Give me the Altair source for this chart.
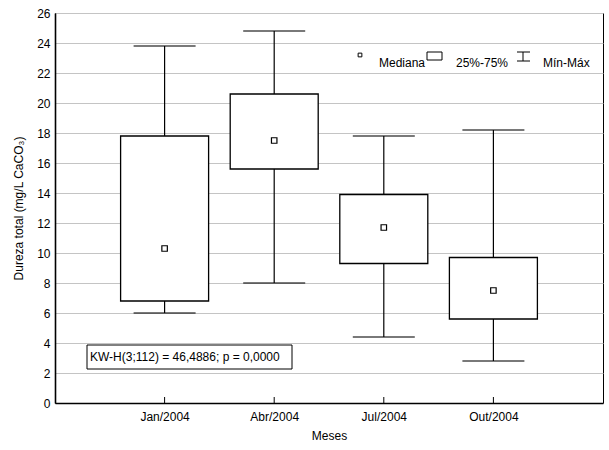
import altair as alt
import pandas as pd

# Box-plot summary of total hardness per sampling month
meses = ["Jan/2004", "Abr/2004", "Jul/2004", "Out/2004"]
minimo = [6.0, 8.0, 4.4, 2.8]
q1 = [6.8, 15.6, 9.3, 5.6]
mediana = [10.3, 17.5, 11.7, 7.5]
q3 = [17.8, 20.6, 13.9, 9.7]
maximo = [23.8, 24.8, 17.8, 18.2]
y_ticks = list(range(0, 27, 2))

legenda = ["Mediana", "25%-75%", "Mín-Máx"]
anotacao = "KW-H(3;112) = 46,4886; p = 0,0000"

FONT = "Liberation Sans"

df = pd.DataFrame({
    "mes": meses, "minimo": minimo, "q1": q1,
    "mediana": mediana, "q3": q3, "maximo": maximo,
})

x_enc = alt.X(
    "mes:N", sort=meses,
    scale=alt.Scale(type="point", domain=meses, padding=1),
    axis=alt.Axis(title="Meses", labelAngle=0, ticks=False, grid=False,
                  labelPadding=8, titlePadding=8),
)
y_scale = alt.Scale(domain=[0, 26], nice=False, zero=True)
y_axis = alt.Axis(title="Dureza total (mg/L CaCO₃)", values=y_ticks, grid=True,
                  ticks=False, labelPadding=5, titlePadding=11, labelOverlap=False)


def yq(field):
    return alt.Y(field, type="quantitative", scale=y_scale, axis=y_axis)


base = alt.Chart(df).encode(x=x_enc)

whiskers = base.mark_rule(color="black", strokeWidth=1.2).encode(
    y=yq("minimo"), y2="maximo:Q")
cap_max = base.mark_tick(color="black", size=62, thickness=1.3).encode(y=yq("maximo"))
cap_min = base.mark_tick(color="black", size=62, thickness=1.3).encode(y=yq("minimo"))
boxes = base.mark_bar(width=88, fill="white", stroke="black", strokeWidth=1.3).encode(
    y=yq("q1"), y2="q3:Q")
medians = base.mark_point(shape="square", size=30, filled=False, color="black",
                          strokeWidth=1.2, opacity=1).encode(y=yq("mediana"))
# short inward ticks on the category axis
inner_ticks = base.mark_rule(color="black", strokeWidth=1).encode(
    y=alt.YDatum(0, scale=y_scale, axis=y_axis), y2=alt.Y2Datum(0.4))

# legend drawn inside the plot area
one = alt.Chart(pd.DataFrame({"k": [0]}))
leg_med = one.mark_point(shape="square", size=14, filled=False, color="black",
                         strokeWidth=1, opacity=1).encode(
    x=alt.value(305), y=alt.value(42))
leg_box = one.mark_rect(fill="white", stroke="black", strokeWidth=1).encode(
    x=alt.value(372), x2=alt.value(387), y=alt.value(39), y2=alt.value(47))
leg_wv = one.mark_rule(color="black", strokeWidth=1).encode(
    x=alt.value(468), y=alt.value(39), y2=alt.value(48))
leg_wt = one.mark_rule(color="black", strokeWidth=1).encode(
    x=alt.value(462), x2=alt.value(475), y=alt.value(39))
leg_wb = one.mark_rule(color="black", strokeWidth=1).encode(
    x=alt.value(462), x2=alt.value(475), y=alt.value(48))
leg_text = []
for label, xpos in zip(legenda, [324, 401, 488]):
    leg_text.append(
        one.mark_text(align="left", baseline="alphabetic", font=FONT, fontSize=12,
                      color="black").encode(
            x=alt.value(xpos), y=alt.value(54), text=alt.value(label)))

# test statistic box
ann_box = one.mark_rect(fill="white", stroke="black", strokeWidth=1).encode(
    x=alt.value(32), x2=alt.value(237), y=alt.value(332), y2=alt.value(356))
ann_text = one.mark_text(align="left", baseline="middle", font=FONT, fontSize=12,
                         color="black").encode(
    x=alt.value(35), y=alt.value(344), text=alt.value(anotacao))

chart = alt.layer(
    whiskers, cap_max, cap_min, boxes, medians, inner_ticks,
    leg_med, leg_box, leg_wv, leg_wt, leg_wb, *leg_text,
    ann_box, ann_text,
).properties(
    width=548, height=390,
    padding={"left": 55, "top": 13, "right": 6, "bottom": 47},
    autosize=alt.AutoSizeParams(type="none"),
    background="white",
).configure_view(
    stroke="black", strokeWidth=1,
).configure_axis(
    labelFont=FONT, titleFont=FONT, labelFontSize=12, titleFontSize=12,
    labelColor="black", titleColor="black", titleFontWeight="normal",
    domainColor="black", domainWidth=1.6, gridColor="#c4c4c4", gridWidth=1,
)

chart.save("out.html", embed_options={"renderer": "svg", "actions": False})
